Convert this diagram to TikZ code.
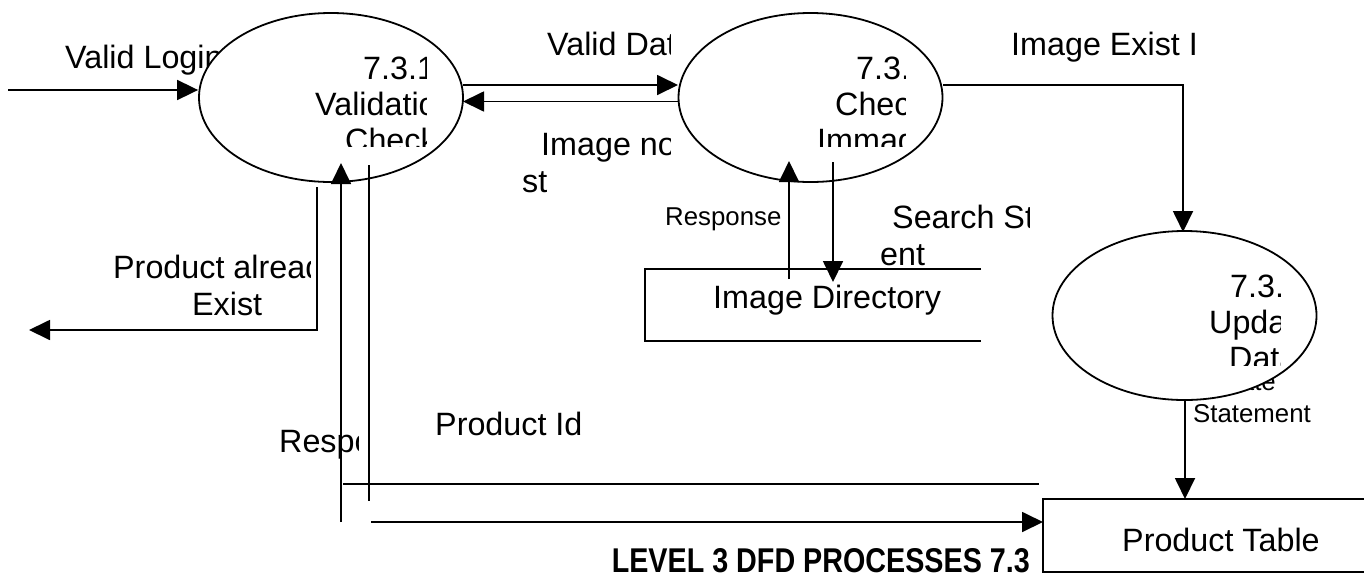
\documentclass[tikz,border=0pt]{standalone}
\usepackage{fontspec}
\setmainfont{Liberation Sans}
\usetikzlibrary{shapes.geometric,arrows.meta}
\tikzset{
  flow/.style={line width=1.8pt,-{Triangle[length=21pt,width=20pt]}},
  plainline/.style={line width=1.8pt},
  proc/.style={ellipse,draw,line width=1.8pt,fill=white,minimum width=264pt,minimum height=169pt,inner sep=0pt},
  lbl/.style={anchor=base west,inner sep=0pt,font=\fontsize{32.3}{36}\selectfont},
  small/.style={anchor=base west,inner sep=0pt,font=\fontsize{25.8}{28}\selectfont},
}
\begin{document}
\begin{tikzpicture}[x=1pt,y=-1pt]
\useasboundingbox (0,0) rectangle (1364,579);
% labels that lie under the processes
\node[lbl] (lvl) at (65,68) {Valid Login};
\node[small,anchor=base east] (lupd) at (1276,390) {Update};
\node[small] (lstm) at (1193,422) {Statement};
% processes
\node[proc] (p1) at (331,97.5) {};
\node[proc] (p2) at (810.5,97.5) {};
\node[proc] (p3) at (1184.5,315.5) {};
% process texts (clipped text boxes)
\begin{scope}
\clip (230,40) rectangle (426,146);
\node[lbl] (t1a) at (363,79) {7.3.1};
\node[lbl] (t1b) at (315,115) {Validation};
\node[lbl] (t1c) at (345,151) {Check};
\end{scope}
\begin{scope}
\clip (720,40) rectangle (905,146);
\node[lbl] (t2a) at (856,79) {7.3.2};
\node[lbl] (t2b) at (835,115) {Check};
\node[lbl] (t2c) at (817,151) {Immage};
\end{scope}
\begin{scope}
\clip (1100,258) rectangle (1280,365);
\node[lbl] (t3a) at (1230,297) {7.3.3};
\node[lbl] (t3b) at (1209,333) {Update};
\node[lbl] (t3c) at (1229,369) {Data};
\end{scope}
% flow labels (clipped text boxes)
\begin{scope}
\clip (500,0) rectangle (670,70);
\node[lbl] (lvd) at (547,55) {Valid Data};
\end{scope}
\begin{scope}
\clip (500,120) rectangle (670,205);
\node[lbl] (lin) at (541,155) {Image not Exi};
\end{scope}
\node[lbl] (lin2) at (522,192) {st};
\node[lbl] (lie) at (1011,55) {Image Exist I};
\begin{scope}
\clip (860,195) rectangle (1029,275);
\node[lbl] (lss) at (892,228) {Search Statem};
\end{scope}
\node[lbl] (lss2) at (880,265) {ent};
\node[small] (lresp2) at (665,225) {Response};
\begin{scope}
\clip (100,240) rectangle (310,325);
\node[lbl] (lpa) at (113,278) {Product already};
\end{scope}
\node[lbl] (lpa2) at (192,315) {Exist};
\begin{scope}
\clip (270,400) rectangle (358,470);
\node[lbl] (lresp1) at (279,452) {Response};
\end{scope}
\node[lbl] (lpid) at (435,435) {Product Id};
% data stores
\node[lbl] (imgdir) at (713,308) {Image Directory};
\draw[plainline] (981,269) -- (645,269) -- (645,341) -- (981,341);
\node[lbl] (prodtab) at (1122,551) {Product Table};
\draw[plainline] (1364,499) -- (1043,499) -- (1043,572) -- (1364,572);
% connector end points
\coordinate (inL) at (8,90);
\coordinate (vdS) at (463,85);
\coordinate (vdE) at (678,85);
\coordinate (inS) at (678,101.5);
\coordinate (inE) at (463,101.5);
\coordinate (ieS) at (943,85);
\coordinate (ieK) at (1183,85);
\coordinate (ieE) at (1183,232);
\coordinate (paS) at (317,187);
\coordinate (paK) at (317,330);
\coordinate (paE) at (29,330);
\coordinate (r1S) at (341,522);
\coordinate (r1E) at (341,163);
\coordinate (q1S) at (369,165);
\coordinate (q1E) at (369,501);
\coordinate (hAS) at (343,484);
\coordinate (hAE) at (1039,484);
\coordinate (hBS) at (371,522);
\coordinate (hBE) at (1043,522);
\coordinate (r2S) at (789,279);
\coordinate (r2E) at (789,161);
\coordinate (s2S) at (833,162);
\coordinate (s2E) at (833,282);
\coordinate (uS) at (1185,399);
\coordinate (uE) at (1185,499);
% connectors
\draw[flow] (inL) -- (inL -| p1.west);
\draw[flow] (vdS) -- (vdE);
\draw[flow] (inS) -- (inE);
\draw[flow] (ieS) -- (ieK) -- (ieE);
\draw[flow] (paS) -- (paK) -- (paE);
\draw[flow] (r1S) -- (r1E);
\draw[plainline] (q1S) -- (q1E);
\draw[plainline] (hAS) -- (hAE);
\draw[flow] (hBS) -- (hBE);
\draw[flow] (r2S) -- (r2E);
\draw[flow] (s2S) -- (s2E);
\draw[flow] (uS) -- (uE);
% title
\node[anchor=south east,inner sep=0pt] (title) at (1030,573) {\resizebox{418pt}{24pt}{\bfseries LEVEL 3 DFD PROCESSES 7.3}};
\end{tikzpicture}
\end{document}
